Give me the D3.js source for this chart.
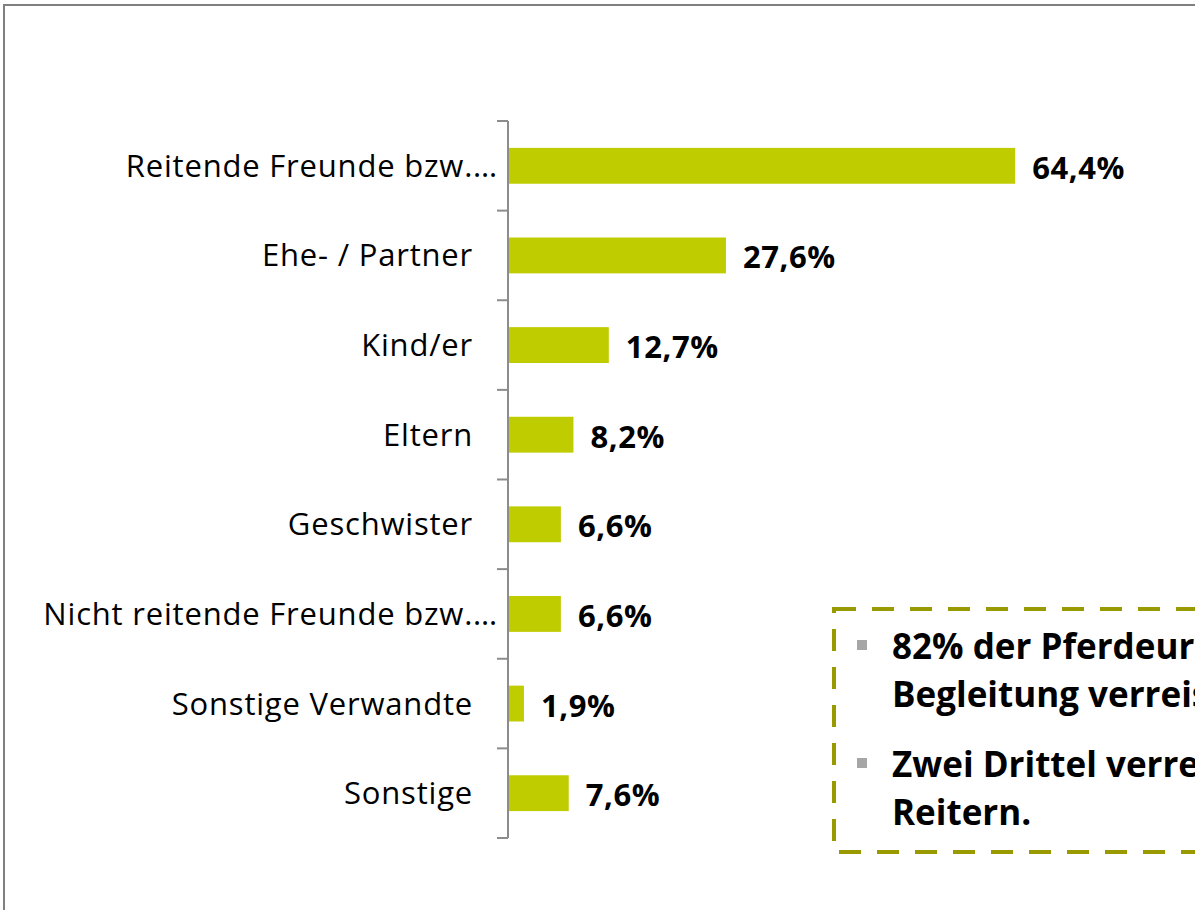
<!DOCTYPE html>
<meta charset="utf-8">
<style>
body { margin: 0; background: #fff; }
svg { display: block; }
.cat text { font: 31px "Open Sans", sans-serif; letter-spacing: 0.8px; fill: #000; }
.val { font: bold 31px "Open Sans", sans-serif; letter-spacing: 0.6px; fill: #000; }
.note text { font: bold 35px "Open Sans", sans-serif; fill: #000; }
</style>
<svg width="1195" height="910"></svg>
<script src="https://cdn.jsdelivr.net/npm/d3@7"></script>
<script>

var categories = ["Reitende Freunde bzw.…", "Ehe- / Partner", "Kind/er", "Eltern",
                  "Geschwister", "Nicht reitende Freunde bzw.…", "Sonstige Verwandte", "Sonstige"];
var values = [64.4, 27.6, 12.7, 8.2, 6.6, 6.6, 1.9, 7.6];
var notes = [
  ["82% der Pferdeurlauber sind in", "Begleitung verreist."],
  ["Zwei Drittel verreisen mit anderen", "Reitern."]
];

var svg = d3.select("svg");

// outer frame, runs off the right edge like the original
svg.append("rect")
    .attr("x", 4).attr("y", 5)
    .attr("width", 1300).attr("height", 1000)
    .attr("fill", "none")
    .attr("stroke", "#808080")
    .attr("stroke-width", 2);

var x = d3.scaleLinear()
    .domain([0, 100])
    .range([509, 509 + 786]);

var y = d3.scaleBand()
    .domain(categories)
    .range([121, 838])
    .paddingInner(0.6)
    .paddingOuter(0.3);

var fmt = function(v) { return d3.format(".1f")(v).replace(".", ",") + "%"; };

var g = svg.append("g");

g.selectAll(".bar")
    .data(values)
  .enter().append("rect")
    .attr("class", "bar")
    .attr("x", x(0))
    .attr("y", function(d, i) { return y(categories[i]); })
    .attr("width", function(d) { return x(d) - x(0); })
    .attr("height", y.bandwidth())
    .attr("fill", "#bfcc00");

g.selectAll(".val")
    .data(values)
  .enter().append("text")
    .attr("class", "val")
    .attr("x", function(d) { return x(d) + 17; })
    .attr("y", function(d, i) { return y(categories[i]) + y.bandwidth() / 2 + 13; })
    .text(fmt);

// category axis
var axis = d3.axisLeft(y).tickSize(0).tickPadding(0);
var ax = svg.append("g")
    .attr("class", "cat")
    .attr("transform", "translate(508,0)")
    .call(axis);
ax.select(".domain").remove();
ax.selectAll("text")
    .attr("x", function(d) { return /…$/.test(d) ? -10 : -35; })
    .attr("dy", null)
    .attr("y", 11)
    .style("text-anchor", "end");

var tickPos = d3.range(categories.length + 1).map(function(i) { return 121 + i * (838 - 121) / categories.length; });
svg.append("line")
    .attr("x1", 508).attr("x2", 508)
    .attr("y1", 121).attr("y2", 838)
    .attr("stroke", "#8c8c8c").attr("stroke-width", 2);
svg.selectAll(".tick-mark")
    .data(tickPos)
  .enter().append("line")
    .attr("class", "tick-mark")
    .attr("x1", 497).attr("x2", 508)
    .attr("y1", function(d) { return d; }).attr("y2", function(d) { return d; })
    .attr("stroke", "#8c8c8c").attr("stroke-width", 2);

// dashed note box
var note = svg.append("g").attr("class", "note");
note.append("rect")
    .attr("x", 834).attr("y", 609)
    .attr("width", 500).attr("height", 243)
    .attr("fill", "none")
    .attr("stroke", "#999900")
    .attr("stroke-width", 4)
    .attr("stroke-dasharray", "22 16");

var paraY = [659, 777];
notes.forEach(function(lines, i) {
  note.append("rect")
      .attr("x", 857).attr("y", paraY[i] - 19)
      .attr("width", 10).attr("height", 10)
      .attr("fill", "#a6a6a6");
  lines.forEach(function(t, j) {
    note.append("text")
        .attr("x", 892)
        .attr("y", paraY[i] + j * 48)
        .text(t);
  });
});

</script>
